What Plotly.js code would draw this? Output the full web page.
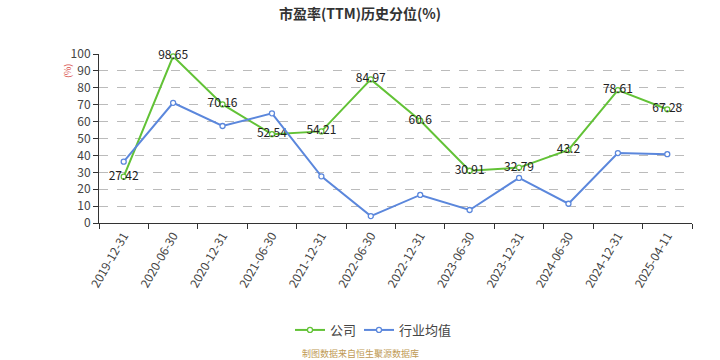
<!DOCTYPE html>
<html>
<head>
<meta charset="utf-8">
<script src="https://cdn.plot.ly/plotly-3.0.1.min.js"></script>
<style>html,body{margin:0;padding:0;background:#fff}#chart{width:720px;height:360px}</style>
</head>
<body>
<div id="chart"></div>
<script>
var categories = ["2019-12-31","2020-06-30","2020-12-31","2021-06-30","2021-12-31","2022-06-30","2022-12-31","2023-06-30","2023-12-31","2024-06-30","2024-12-31","2025-04-11"];
var companyValues = [27.42, 98.65, 70.16, 52.54, 54.21, 84.97, 60.6, 30.91, 32.79, 43.2, 78.61, 67.28];
var industryValues = [36.3, 71.1, 57.4, 64.9, 27.6, 4.1, 16.6, 7.7, 26.7, 11.4, 41.4, 40.7];
var seriesNames = ["公司", "行业均值"];
var yTicks = [0,10,20,30,40,50,60,70,80,90,100];

var font = "'Noto Sans CJK SC', 'Noto Sans', sans-serif";
var green = "#62c236";
var blue = "#5b87dc";

var traces = [
  {
    x: categories, y: companyValues, name: seriesNames[0], type: "scatter",
    mode: "lines+markers+text", legend: "legend",
    text: companyValues.map(String), textposition: "middle center",
    textfont: {family: font, size: 12, color: "#222"},
    line: {color: green, width: 2},
    marker: {symbol: "circle", size: 5, color: "#fff", line: {color: green, width: 1.3}},
    cliponaxis: false
  },
  {
    x: categories, y: industryValues, name: seriesNames[1], type: "scatter",
    mode: "lines+markers", legend: "legend2",
    line: {color: blue, width: 2},
    marker: {symbol: "circle", size: 5, color: "#fff", line: {color: blue, width: 1.3}},
    cliponaxis: false
  }
];

function px(x) { return (x - 99) / 593; }
var legendFont = {family: font, size: 13, color: "#444"};

var layout = {
  width: 720, height: 360,
  margin: {l: 99, r: 28, t: 54, b: 137},
  paper_bgcolor: "#fff", plot_bgcolor: "#fff",
  font: {family: font, color: "#333"},
  title: {text: "<b>市盈率(TTM)历史分位(%)</b>", x: 0.5, xanchor: "center", y: 0.962, yanchor: "middle",
          font: {family: font, size: 14, color: "#333"}},
  showlegend: true,
  legend: {orientation: "h", x: px(290), xanchor: "left", y: -0.633, yanchor: "middle",
           font: legendFont, itemwidth: 30, bgcolor: "rgba(0,0,0,0)"},
  legend2: {orientation: "h", x: px(359), xanchor: "left", y: -0.633, yanchor: "middle",
           font: legendFont, itemwidth: 30, bgcolor: "rgba(0,0,0,0)"},
  xaxis: {
    type: "category", range: [-0.5, 11.5], tickangle: -60,
    tickson: "boundaries", ticks: "outside", ticklen: 5, tickcolor: "#333",
    showline: true, linecolor: "#333", linewidth: 1, showgrid: false, zeroline: false,
    tickfont: {family: font, size: 12, color: "#444"}, fixedrange: true
  },
  yaxis: {
    range: [0, 100], tickvals: yTicks, ticks: "outside", ticklen: 5, tickcolor: "#333",
    showline: true, linecolor: "#333", linewidth: 1,
    showgrid: true, gridcolor: "#bbb", griddash: "dash", gridwidth: 1, zeroline: false,
    tickfont: {family: font, size: 12, color: "#444"}, fixedrange: true
  },
  annotations: [
    {text: "(%)", xref: "paper", yref: "paper", x: -0.052, y: 0.9, textangle: -90,
     showarrow: false, font: {family: font, size: 9, color: "#d9534f"}, xanchor: "center", yanchor: "middle"},
    {text: "制图数据来自恒生聚源数据库", xref: "paper", yref: "paper", x: px(360), y: -0.775,
     showarrow: false, font: {family: font, size: 9, color: "#c09a55"}, xanchor: "center", yanchor: "middle"}
  ]
};

Plotly.newPlot("chart", traces, layout, {displayModeBar: false, staticPlot: true});
</script>
</body>
</html>
